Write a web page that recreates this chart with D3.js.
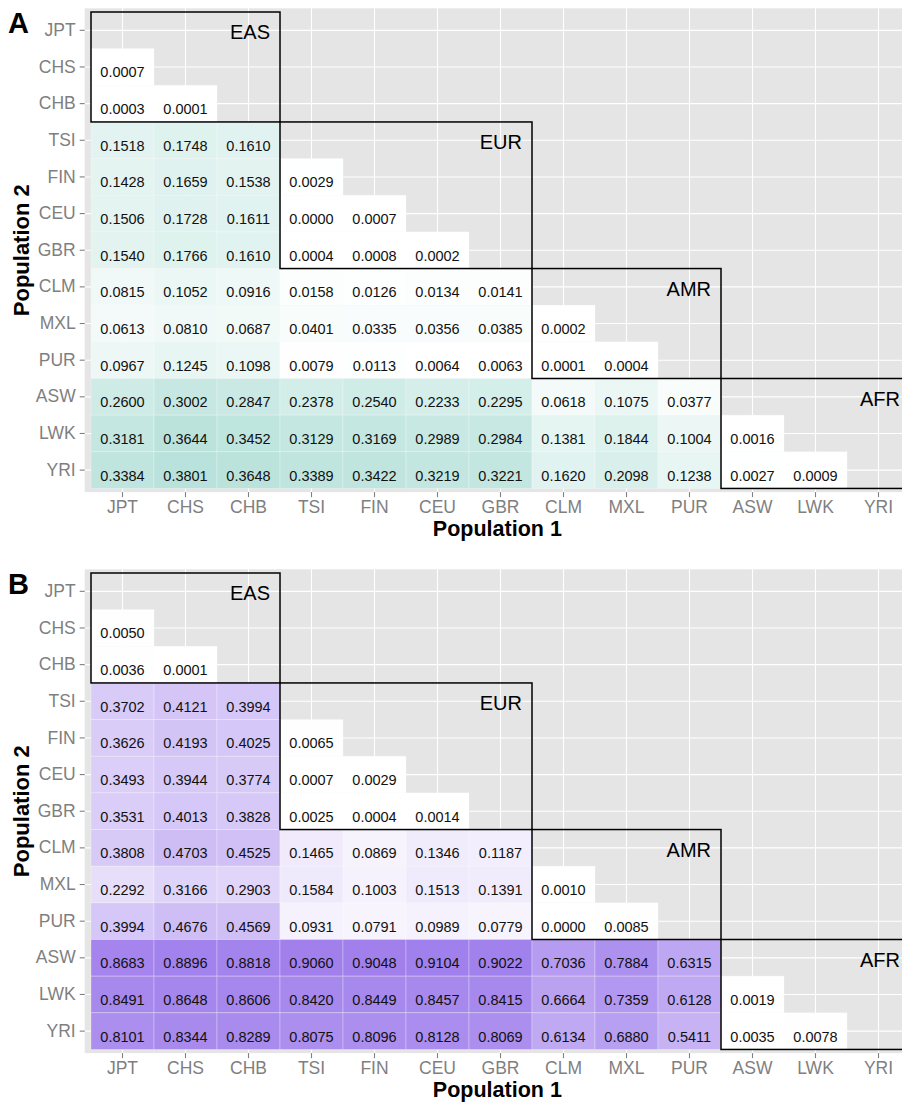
<!DOCTYPE html>
<html>
<head>
<meta charset="utf-8">
<title>Pairwise Fst heatmaps</title>
<style>
  body { margin: 0; background: #fff; }
  svg { display: block; font-family: "Liberation Sans", Arial, sans-serif; }
</style>
</head>
<body>
<script src="https://cdn.jsdelivr.net/npm/d3@7/dist/d3.min.js"></script>
<script>
// populations, in axis order
var pops = ["JPT", "CHS", "CHB", "TSI", "FIN", "CEU", "GBR", "CLM", "MXL", "PUR", "ASW", "LWK", "YRI"];

// continental groups: name, first and last population
var groupNames = ["EAS", "EUR", "AMR", "AFR"];
var groupStart = ["JPT", "TSI", "CLM", "ASW"];
var groupEnd   = ["CHB", "GBR", "PUR", "YRI"];

// panel A, lower triangle, one row per "Population 2" (from CHS down)
var fstA = [
  [0.0007],
  [0.0003, 0.0001],
  [0.1518, 0.1748, 0.1610],
  [0.1428, 0.1659, 0.1538, 0.0029],
  [0.1506, 0.1728, 0.1611, 0.0000, 0.0007],
  [0.1540, 0.1766, 0.1610, 0.0004, 0.0008, 0.0002],
  [0.0815, 0.1052, 0.0916, 0.0158, 0.0126, 0.0134, 0.0141],
  [0.0613, 0.0810, 0.0687, 0.0401, 0.0335, 0.0356, 0.0385, 0.0002],
  [0.0967, 0.1245, 0.1098, 0.0079, 0.0113, 0.0064, 0.0063, 0.0001, 0.0004],
  [0.2600, 0.3002, 0.2847, 0.2378, 0.2540, 0.2233, 0.2295, 0.0618, 0.1075, 0.0377],
  [0.3181, 0.3644, 0.3452, 0.3129, 0.3169, 0.2989, 0.2984, 0.1381, 0.1844, 0.1004, 0.0016],
  [0.3384, 0.3801, 0.3648, 0.3389, 0.3422, 0.3219, 0.3221, 0.1620, 0.2098, 0.1238, 0.0027, 0.0009]
];

// panel B
var fstB = [
  [0.0050],
  [0.0036, 0.0001],
  [0.3702, 0.4121, 0.3994],
  [0.3626, 0.4193, 0.4025, 0.0065],
  [0.3493, 0.3944, 0.3774, 0.0007, 0.0029],
  [0.3531, 0.4013, 0.3828, 0.0025, 0.0004, 0.0014],
  [0.3808, 0.4703, 0.4525, 0.1465, 0.0869, 0.1346, 0.1187],
  [0.2292, 0.3166, 0.2903, 0.1584, 0.1003, 0.1513, 0.1391, 0.0010],
  [0.3994, 0.4676, 0.4569, 0.0931, 0.0791, 0.0989, 0.0779, 0.0000, 0.0085],
  [0.8683, 0.8896, 0.8818, 0.9060, 0.9048, 0.9104, 0.9022, 0.7036, 0.7884, 0.6315],
  [0.8491, 0.8648, 0.8606, 0.8420, 0.8449, 0.8457, 0.8415, 0.6664, 0.7359, 0.6128, 0.0019],
  [0.8101, 0.8344, 0.8289, 0.8075, 0.8096, 0.8128, 0.8069, 0.6134, 0.6880, 0.5411, 0.0035, 0.0078]
];

var W = 902, H = 1102;
var colW = 63, rowH = 36.65;
var left = 91;

var svg = d3.select("body").append("svg")
    .attr("width", W)
    .attr("height", H);

function drawPanel(letter, values, top, high) {
    var x = d3.scaleBand().domain(pops).range([left, left + pops.length * colW]);
    var y = d3.scaleBand().domain(pops).range([top, top + pops.length * rowH]);
    var fill = d3.scaleLinear().domain([0, 1]).range(["#ffffff", high]);

    var padX = colW * 0.1, padY = rowH * 0.1;
    var x0 = x.range()[0] - padX, x1 = x.range()[1] + padX;
    var y0 = y.range()[0] - padY, y1 = y.range()[1] + padY;

    var g = svg.append("g");

    // grey panel
    g.append("rect")
        .attr("x", x0).attr("y", y0)
        .attr("width", x1 - x0).attr("height", y1 - y0)
        .attr("fill", "#e5e5e5");

    // grid lines at category centres
    g.selectAll(".vgrid").data(pops).enter().append("line")
        .attr("x1", function(d) { return x(d) + x.bandwidth() / 2; })
        .attr("x2", function(d) { return x(d) + x.bandwidth() / 2; })
        .attr("y1", y0).attr("y2", y1)
        .attr("stroke", "#fff").attr("stroke-width", 1.1);
    g.selectAll(".hgrid").data(pops).enter().append("line")
        .attr("y1", function(d) { return y(d) + y.bandwidth() / 2; })
        .attr("y2", function(d) { return y(d) + y.bandwidth() / 2; })
        .attr("x1", x0).attr("x2", x1)
        .attr("stroke", "#fff").attr("stroke-width", 1.1);

    // flatten the triangle into cells
    var cells = [];
    values.forEach(function(row, i) {
        row.forEach(function(v, j) {
            cells.push({ p1: pops[j], p2: pops[i + 1], v: v });
        });
    });

    g.selectAll(".tile").data(cells).enter().append("rect")
        .attr("x", function(d) { return x(d.p1); })
        .attr("y", function(d) { return y(d.p2); })
        .attr("width", x.bandwidth())
        .attr("height", y.bandwidth())
        .attr("fill", function(d) { return fill(d.v); })
        .attr("stroke", "#ffffff")
        .attr("stroke-opacity", 0.35)
        .attr("stroke-width", 0.8);

    g.selectAll(".val").data(cells).enter().append("text")
        .attr("x", function(d) { return x(d.p1) + x.bandwidth() / 2; })
        .attr("y", function(d) { return y(d.p2) + y.bandwidth() / 2 + 5.5; })
        .attr("text-anchor", "middle")
        .attr("dominant-baseline", "central")
        .attr("font-size", 14.5)
        .attr("fill", "#111")
        .text(function(d) { return d.v.toFixed(4); });

    // group boxes
    groupNames.forEach(function(name, k) {
        var bx0 = x(groupStart[k]), bx1 = x(groupEnd[k]) + x.bandwidth();
        var by0 = y(groupStart[k]), by1 = y(groupEnd[k]) + y.bandwidth();
        g.append("rect")
            .attr("x", bx0).attr("y", by0)
            .attr("width", bx1 - bx0).attr("height", by1 - by0)
            .attr("fill", "none")
            .attr("stroke", "#000")
            .attr("stroke-width", 1.5);
        g.append("text")
            .attr("x", bx1 - 10)
            .attr("y", by0 + y.bandwidth() / 2 + 2)
            .attr("text-anchor", "end")
            .attr("dominant-baseline", "central")
            .attr("font-size", 20)
            .attr("fill", "#000")
            .text(name);
    });

    // axes
    var yAxis = g.append("g")
        .attr("transform", "translate(" + x0 + ",0)")
        .call(d3.axisLeft(y).tickSize(5).tickPadding(4));
    var xAxis = g.append("g")
        .attr("transform", "translate(0," + y1 + ")")
        .call(d3.axisBottom(x).tickSize(5).tickPadding(3));
    [xAxis, yAxis].forEach(function(a) {
        a.select(".domain").remove();
        a.selectAll(".tick line").attr("stroke", "#7f7f7f").attr("stroke-width", 1.1);
        a.selectAll(".tick text")
            .attr("fill", "#7f7f7f")
            .attr("font-size", 17.5)
            .attr("font-family", "Liberation Sans, Arial, sans-serif");
    });

    // axis titles
    g.append("text")
        .attr("x", (x0 + Math.min(x1, W)) / 2 + 4)
        .attr("y", y1 + 44)
        .attr("text-anchor", "middle")
        .attr("font-size", 21.5)
        .attr("font-weight", "bold")
        .text("Population 1");
    g.append("text")
        .attr("transform", "translate(29," + (y0 + y1) / 2 + ") rotate(-90)")
        .attr("text-anchor", "middle")
        .attr("font-size", 22)
        .attr("font-weight", "bold")
        .text("Population 2");

    // panel letter
    g.append("text")
        .attr("x", 8)
        .attr("y", top + 21)
        .attr("font-size", 29)
        .attr("font-weight", "bold")
        .text(letter);
}

drawPanel("A", fstA, 12, "#44b3a0");
drawPanel("B", fstB, 573, "#9773ea");
</script>
</body>
</html>
